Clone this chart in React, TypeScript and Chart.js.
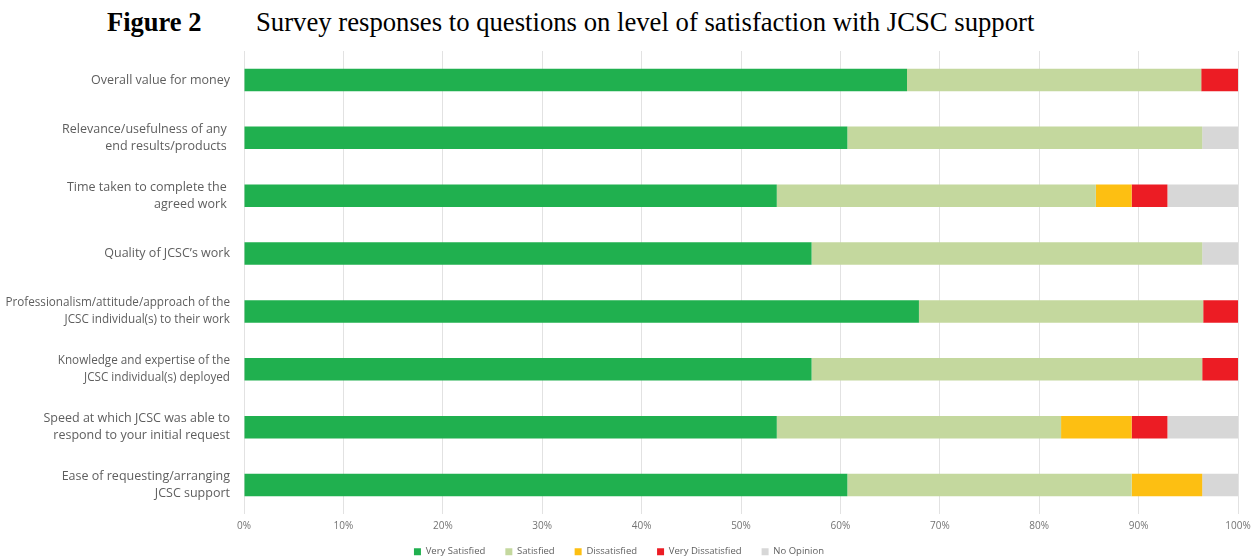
import React, { useEffect, useRef } from 'react';
import { Chart, registerables } from 'chart.js';

Chart.register(...registerables);

const categories: (string | string[])[] = [
  'Overall value for money',
  ['Relevance/usefulness of any ', 'end results/products '],
  ['Time taken to complete the ', 'agreed work '],
  'Quality of JCSC\u2019s work',
  ['Professionalism/attitude/approach of the', 'JCSC individual(s) to their work'],
  ['Knowledge and expertise of the', 'JCSC individual(s) deployed'],
  ['Speed at which JCSC was able to', 'respond to your initial request'],
  ['Ease of requesting/arranging', 'JCSC support'],
];

const verySatisfied = [66.7, 60.7, 53.6, 57.1, 67.9, 57.1, 53.6, 60.7];
const satisfied = [29.6, 35.7, 32.1, 39.3, 28.6, 39.3, 28.6, 28.6];
const dissatisfied = [0, 0, 3.6, 0, 0, 0, 7.1, 7.1];
const veryDissatisfied = [3.7, 0, 3.6, 0, 3.6, 3.6, 3.6, 0];
const noOpinion = [0, 3.6, 7.1, 3.6, 0, 0, 7.1, 3.6];

const seriesNames = ['Very Satisfied', 'Satisfied', 'Dissatisfied', 'Very Dissatisfied', 'No Opinion'];
const seriesColors = ['#20b04f', '#c4d89e', '#fdbf12', '#ec1c24', '#d7d7d7'];

// the two long labels are set tighter in the original
const tightLabels = [4, 5];

// legend padding is wide sideways, so start the row a bit higher
const legendNudge = {
  id: 'legendNudge',
  afterLayout(chart: any) {
    const l = chart.legend;
    if (l) {
      l.top -= 5;
    }
  },
};

const App: React.FC = () => {
  const chartRef = useRef<HTMLCanvasElement>(null);

  useEffect(() => {
    if (!chartRef.current) return;
    const values = [verySatisfied, satisfied, dissatisfied, veryDissatisfied, noOpinion];
    const chart = new Chart(chartRef.current, {
      type: 'bar',
      data: {
        labels: categories,
        datasets: values.map((v, i) => ({
          label: seriesNames[i],
          data: v,
          backgroundColor: seriesColors[i],
          borderWidth: 0,
          barPercentage: 0.39,
          categoryPercentage: 1,
        })),
      },
      options: {
        indexAxis: 'y',
        animation: false,
        responsive: false,
        layout: { padding: { top: 51, right: 22, bottom: 0, left: 0 } },
        scales: {
          x: {
            stacked: true,
            min: 0,
            max: 100,
            ticks: {
              stepSize: 10,
              padding: 6,
              color: '#737373',
              font: { family: 'Open Sans', size: 10 },
              callback: (v) => v + '%',
            },
            grid: { color: '#e2e2e2', drawTicks: false },
            border: { display: false },
            afterFit: (scale) => {
              scale.height = 18;
            },
          },
          y: {
            stacked: true,
            ticks: {
              padding: 14,
              color: '#5e5e5e',
              font: (ctx) => ({
                family: 'Open Sans',
                size: tightLabels.includes(ctx.index) ? 11.7 : 12.5,
                lineHeight: tightLabels.includes(ctx.index) ? 1.42 : 1.33,
              }),
            },
            grid: { display: false, drawTicks: false },
            border: { display: false },
            afterFit: (scale) => {
              scale.width = 244;
            },
          },
        },
        plugins: {
          legend: {
            position: 'bottom',
            maxHeight: 24,
            labels: {
              boxWidth: 7,
              boxHeight: 7,
              padding: 20,
              color: '#5e5e5e',
              font: { family: 'Open Sans', size: 9.5 },
            },
          },
          tooltip: { enabled: false },
        },
      },
      plugins: [legendNudge],
    });
    return () => {
      chart.destroy();
    };
  }, []);

  return (
    <div style={{ position: 'absolute', left: 0, top: 0, width: 1260, height: 556, background: '#fff' }}>
      <div
        style={{
          position: 'absolute',
          top: 7,
          left: 107,
          fontFamily: '"Liberation Serif", "Times New Roman", serif',
          fontSize: 26.5,
          lineHeight: '30px',
          fontWeight: 'bold',
          color: '#000',
        }}
      >
        Figure 2
      </div>
      <div
        style={{
          position: 'absolute',
          top: 7,
          left: 256,
          fontFamily: '"Liberation Serif", "Times New Roman", serif',
          fontSize: 26.7,
          lineHeight: '30px',
          color: '#000',
        }}
      >
        Survey responses to questions on level of satisfaction with JCSC support
      </div>
      <canvas ref={chartRef} width={1260} height={556} style={{ position: 'absolute', left: 0, top: 0 }} />
    </div>
  );
};

export default App;
